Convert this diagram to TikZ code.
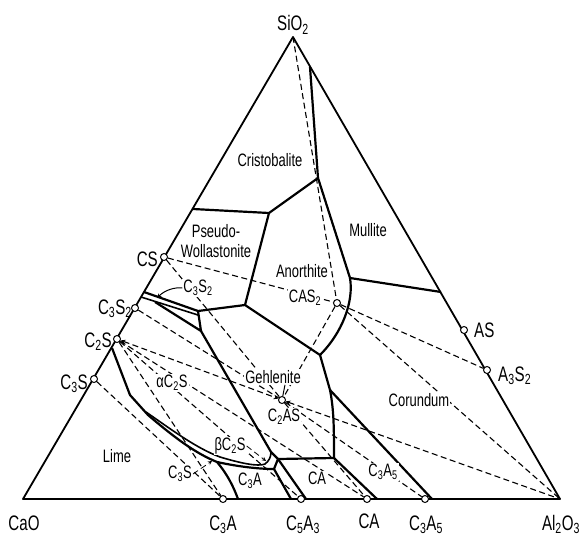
\documentclass[tikz,border=0pt]{standalone}
\usepackage{fontspec}
\setmainfont{Liberation Sans}[FakeStretch=0.72]
\begin{document}
\begin{tikzpicture}[x=1pt,y=-1pt,
  bnd/.style={line width=2.2pt,line join=round},
  thn/.style={line width=1.6pt,line join=round},
  alk/.style={line width=1.1pt,dash pattern=on 6pt off 3.5pt},
  cmp/.style={draw,circle,fill=white,line width=1pt,inner sep=0pt,minimum size=7pt},
  fld/.style={font=\fontsize{18}{20}\selectfont,fill=white,inner sep=1pt},
  opn/.style={font=\fontsize{18}{20}\selectfont,inner sep=1pt},
  vtx/.style={font=\fontsize{21}{23}\selectfont,inner sep=0pt}]
\useasboundingbox (0,0) rectangle (581,535);
\coordinate (CaO) at (23,499);
\coordinate (Al2O3) at (560,499);
\coordinate (SiO2) at (293,37);
\draw[line width=1.8pt,line join=round] (CaO) -- (Al2O3) -- (SiO2) -- cycle;
% field boundaries
\coordinate (p1) at (193,209);
\coordinate (p2) at (269,213);
\coordinate (p3) at (318,178);
\coordinate (p4) at (310,67);
\coordinate (p5) at (350,278);
\coordinate (p6) at (441,292);
\coordinate (p7) at (245,305);
\coordinate (p8) at (144,292);
\coordinate (p9) at (198,311);
\coordinate (p10) at (320,355);
\coordinate (p11) at (330,390);
\coordinate (p12) at (334,458);
\coordinate (p13) at (432,499);
\coordinate (p14) at (377,499);
\coordinate (p15) at (278,459);
\coordinate (p16) at (201,331);
\coordinate (p17) at (271,452);
\coordinate (p18) at (306,499);
\coordinate (p19) at (291,499);
\coordinate (p20) at (112,348);
\coordinate (p21) at (217,462);
\coordinate (p22) at (238,499);
\coordinate (t3) at (274,469);
\coordinate (q1) at (141,297);
\coordinate (q2) at (198,315);
\coordinate (q3) at (155,302);
\draw[bnd] (p1) -- (p2) -- (p3) -- (p5) -- (p6);
\draw[bnd] (p4) -- (p3);
\draw[bnd] (p2) -- (p7) -- (p10);
\draw[bnd] (p8) -- (p9) -- (p7);
\draw[bnd] (p5) .. controls (354,302) and (342,333) .. (p10);
\draw[bnd] (p10) -- (p11) .. controls (334,410) and (334,430) .. (p12);
\draw[bnd] (p11) -- (p13);
\draw[bnd] (p12) -- (p14);
\draw[bnd] (p15) -- (p12);
\draw[thn] (q1) -- (q2);
\draw[bnd] (q3) -- (p16) -- (p9);
\draw[bnd] (p16) -- (p17) -- (p15) -- (t3);
\draw[bnd] (p15) -- (p18);
\draw[bnd] (t3) -- (p19);
\draw[bnd] (p20) -- (130,395) -- (148,415) .. controls (175,438) and (195,453) .. (p21) .. controls (240,467) and (260,469) .. (t3);
\draw[thn] (146,412) .. controls (172,430) and (196,448) .. (220,457) .. controls (240,463) and (258,467) .. (265,464) .. controls (269,461) and (271,457) .. (p17);
\draw[bnd] (p21) .. controls (228,475) and (234,488) .. (p22);
% compounds
\foreach \n/\x/\y in {CS/164/257,C3S2/135/308,C2S/117/339,C3S/94/379,AS/464/330,A3S2/487/370,
  C3A/223/499,C5A3/301/499,CA/367/499,C3A5/425/499,CAS2/337/303,C2AS/282/400}
  \node[cmp] (\n) at (\x,\y) {};
\foreach \a/\b in {SiO2/CAS2,CS/CAS2,CAS2/A3S2,CAS2/Al2O3,CAS2/C2AS,CS/C2AS,C3S2/C2AS,
  C2AS/CA,C2AS/C3A5,C2S/CA,C2S/C5A3,C2S/C3A,C3S/C3A}
  \draw[alk] (\a) -- (\b);
\draw[alk,stealth-stealth] (C2S) -- (C2AS);
\draw[alk,stealth-] (C2AS) -- (Al2O3);
% fields
\node[opn] (cris) at (270,160) {Cristobalite};
\node[opn,align=center] (pswo) at (216,241) {Pseudo-\\Wollastonite};
\node[opn] (mull) at (368,230) {Mullite};
\node[fld] (anor) at (302,271) {Anorthite};
\node[fld] (cas2l) at (305,298) {CAS\textsubscript{2}};
\node[fld] (gehl) at (273,377) {Gehlenite};
\node[fld] (c2asl) at (284,417) {C\textsubscript{2}AS};
\node[fld] (coru) at (419,400) {Corundum};
\node[fld] (c3s2f) at (198,288) {C\textsubscript{3}S\textsubscript{2}};
\node[fld] (ac2s) at (172,383) {αC\textsubscript{2}S};
\node[fld] (bc2s) at (230,446) {βC\textsubscript{2}S};
\node[fld] (c3sf) at (180,474) {C\textsubscript{3}S};
\node[opn] (lime) at (117,456) {Lime};
\node[fld] (c3af) at (250,481) {C\textsubscript{3}A};
\node[fld] (caf) at (317,478) {CA};
\node[fld] (c3a5f) at (383,472) {C\textsubscript{3}A\textsubscript{5}};
\draw[line width=1pt] ([xshift=12pt]gehl.south) -- (C2AS);
\draw[line width=1pt,-stealth] (c3s2f.west) .. controls (175,287) and (165,290) .. (157,298);
\draw[alk,line width=0.8pt,-stealth] (bc2s.east) -- (266,461);
\draw[alk,line width=0.8pt,-stealth] (c3sf.east) -- (212,461);
% compositions
\node[vtx,anchor=base] (lSiO2) at (293,31) {SiO\textsubscript{2}};
\node[vtx,anchor=base] (lCaO) at (24,530) {CaO};
\node[vtx,anchor=base] (lC3A) at (223,530) {C\textsubscript{3}A};
\node[vtx,anchor=base] (lC5A3) at (303,530) {C\textsubscript{5}A\textsubscript{3}};
\node[vtx,anchor=base] (lCA) at (369,528) {CA};
\node[vtx,anchor=base] (lC3A5) at (426,530) {C\textsubscript{3}A\textsubscript{5}};
\node[vtx,anchor=base] (lAl2O3) at (561,530) {Al\textsubscript{2}O\textsubscript{3}};
\node[vtx,anchor=base east] (lCS) at (158,266) {CS};
\node[vtx,anchor=base east] (lC3S2) at (132,314) {C\textsubscript{3}S\textsubscript{2}};
\node[vtx,anchor=base east] (lC2S) at (112,347) {C\textsubscript{2}S};
\node[vtx,anchor=base east] (lC3S) at (88,389) {C\textsubscript{3}S};
\node[vtx,anchor=base west] (lAS) at (474,337) {AS};
\node[vtx,anchor=base west] (lA3S2) at (498,381) {A\textsubscript{3}S\textsubscript{2}};
\end{tikzpicture}
\end{document}
